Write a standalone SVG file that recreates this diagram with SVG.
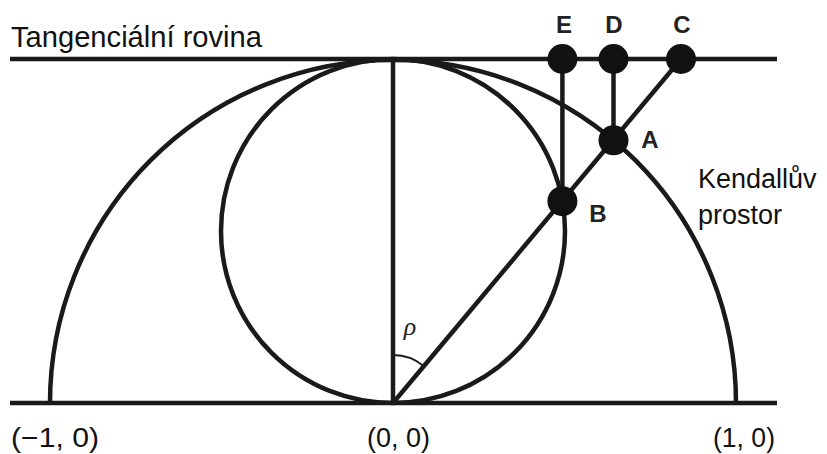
<svg xmlns="http://www.w3.org/2000/svg" width="827" height="454" viewBox="0 0 827 454">
<style>
.ln{stroke:#1a1a1a;stroke-width:4.5;fill:none;stroke-linecap:butt}
.dot{fill:#111}
.t{font-family:"Liberation Sans",Arial,sans-serif;fill:#111}
.b{font-family:"Liberation Sans",Arial,sans-serif;font-weight:bold;fill:#222;font-size:24px;text-anchor:middle}
.c{font-family:"Liberation Sans",Arial,sans-serif;fill:#111;font-size:27px}
</style>
<rect width="827" height="454" fill="#fff"/>
<g id="connectors">
<line class="ln" x1="10" y1="59" x2="777" y2="59"/>
<line class="ln" x1="10" y1="403" x2="777" y2="403"/>
<path class="ln" d="M 50 403 A 343 343 0 0 1 736 403"/>
<circle class="ln" cx="393" cy="231" r="172"/>
<line class="ln" x1="393" y1="59" x2="393" y2="403"/>
<line class="ln" x1="393" y1="403" x2="681" y2="59"/>
<line class="ln" x1="613.5" y1="59" x2="613.5" y2="140.3"/>
<line class="ln" x1="562.4" y1="59" x2="562.4" y2="201.2"/>
<path d="M 393 355 A 48 48 0 0 1 423.9 366.2" fill="none" stroke="#1a1a1a" stroke-width="1.8"/>
</g>
<g id="C"><circle class="dot" cx="681" cy="59" r="15"/><text class="b" x="682" y="33">C</text></g>
<g id="D"><circle class="dot" cx="613.5" cy="59" r="15"/><text class="b" x="614" y="33">D</text></g>
<g id="E"><circle class="dot" cx="562.4" cy="59" r="15"/><text class="b" x="564" y="33">E</text></g>
<g id="A"><circle class="dot" cx="613.5" cy="140.3" r="15"/><text class="b" x="650" y="148">A</text></g>
<g id="B"><circle class="dot" cx="562.4" cy="201.2" r="15"/><text class="b" x="598" y="222">B</text></g>
<g id="labels">
<text class="t" x="11" y="47" font-size="29" textLength="251" lengthAdjust="spacingAndGlyphs">Tangenciální rovina</text>
<text class="t" x="698" y="188" font-size="27">Kendallův</text>
<text class="t" x="698" y="224" font-size="27">prostor</text>
<text x="410" y="335" font-family="'Liberation Serif','DejaVu Serif',serif" font-style="italic" font-size="26" text-anchor="middle" fill="#222">ρ</text>
<text class="c" x="11" y="447" textLength="88" lengthAdjust="spacingAndGlyphs">(−1, 0)</text>
<text class="c" x="367" y="447" textLength="63" lengthAdjust="spacingAndGlyphs">(0, 0)</text>
<text class="c" x="713" y="447" textLength="62" lengthAdjust="spacingAndGlyphs">(1, 0)</text>
</g>
</svg>
